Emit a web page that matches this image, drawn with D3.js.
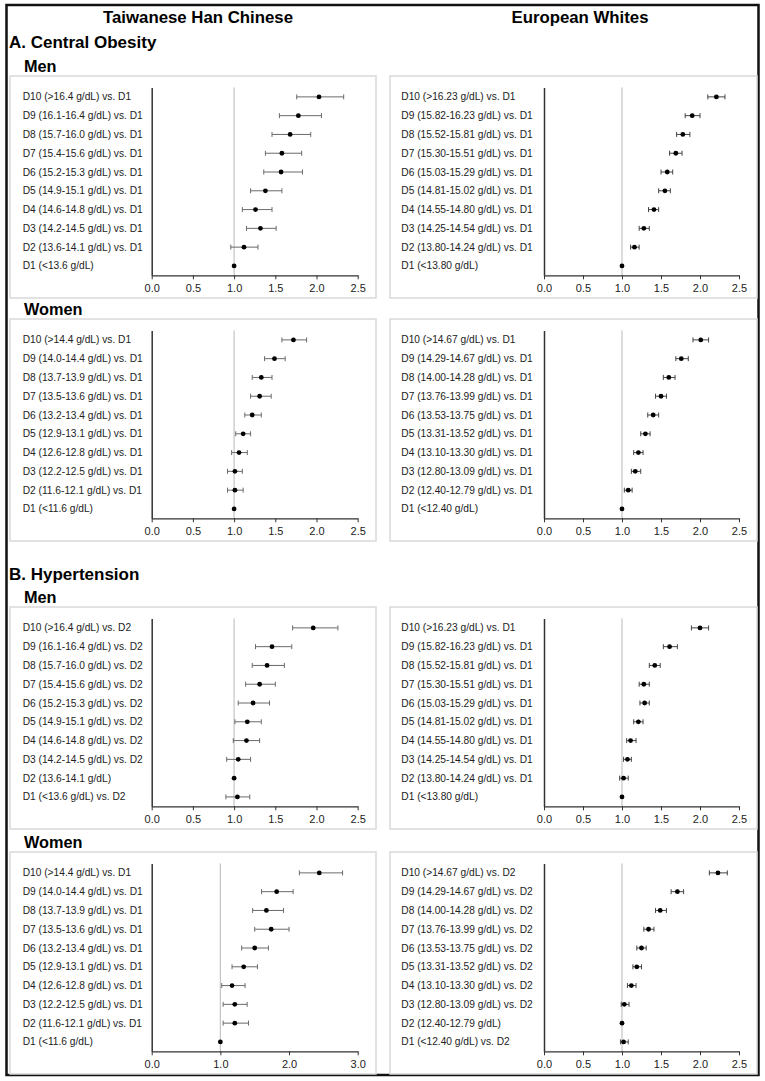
<!DOCTYPE html>
<html>
<head>
<meta charset="utf-8">
<script src="https://cdn.jsdelivr.net/npm/d3@7"></script>
<style>
  body { margin: 0; background: #fff; }
  svg text { font-family: Arial, "Liberation Sans", sans-serif; }
</style>
</head>
<body>
<div id="chart"></div>
<script>
// ---- data (rows listed top to bottom) ----
const twMenA_labels = ["D10 (>16.4 g/dL) vs. D1", "D9 (16.1-16.4 g/dL) vs. D1", "D8 (15.7-16.0 g/dL) vs. D1", "D7 (15.4-15.6 g/dL) vs. D1", "D6 (15.2-15.3 g/dL) vs. D1", "D5 (14.9-15.1 g/dL) vs. D1", "D4 (14.6-14.8 g/dL) vs. D1", "D3 (14.2-14.5 g/dL) vs. D1", "D2 (13.6-14.1 g/dL) vs. D1", "D1 (<13.6 g/dL)"];
const twMenA_or = [2.03, 1.78, 1.68, 1.58, 1.57, 1.38, 1.26, 1.32, 1.12, 1.0];
const twMenA_lo = [1.76, 1.55, 1.46, 1.38, 1.36, 1.20, 1.10, 1.15, 0.96, 1.0];
const twMenA_hi = [2.33, 2.06, 1.93, 1.82, 1.83, 1.58, 1.46, 1.51, 1.29, 1.0];

const euMenA_labels = ["D10 (>16.23 g/dL) vs. D1", "D9 (15.82-16.23 g/dL) vs. D1", "D8 (15.52-15.81 g/dL) vs. D1", "D7 (15.30-15.51 g/dL) vs. D1", "D6 (15.03-15.29 g/dL) vs. D1", "D5 (14.81-15.02 g/dL) vs. D1", "D4 (14.55-14.80 g/dL) vs. D1", "D3 (14.25-14.54 g/dL) vs. D1", "D2 (13.80-14.24 g/dL) vs. D1", "D1 (<13.80 g/dL)"];
const euMenA_or = [2.21, 1.90, 1.78, 1.69, 1.58, 1.55, 1.41, 1.28, 1.16, 1.0];
const euMenA_lo = [2.10, 1.81, 1.70, 1.61, 1.50, 1.47, 1.34, 1.22, 1.11, 1.0];
const euMenA_hi = [2.32, 2.00, 1.87, 1.77, 1.65, 1.62, 1.47, 1.35, 1.22, 1.0];

const twWomenA_labels = ["D10 (>14.4 g/dL) vs. D1", "D9 (14.0-14.4 g/dL) vs. D1", "D8 (13.7-13.9 g/dL) vs. D1", "D7 (13.5-13.6 g/dL) vs. D1", "D6 (13.2-13.4 g/dL) vs. D1", "D5 (12.9-13.1 g/dL) vs. D1", "D4 (12.6-12.8 g/dL) vs. D1", "D3 (12.2-12.5 g/dL) vs. D1", "D2 (11.6-12.1 g/dL) vs. D1", "D1 (<11.6 g/dL)"];
const twWomenA_or = [1.72, 1.49, 1.33, 1.31, 1.22, 1.11, 1.06, 1.01, 1.01, 1.0];
const twWomenA_lo = [1.58, 1.37, 1.22, 1.20, 1.13, 1.02, 0.97, 0.92, 0.92, 1.0];
const twWomenA_hi = [1.88, 1.62, 1.46, 1.45, 1.33, 1.20, 1.16, 1.10, 1.11, 1.0];

const euWomenA_labels = ["D10 (>14.67 g/dL) vs. D1", "D9 (14.29-14.67 g/dL) vs. D1", "D8 (14.00-14.28 g/dL) vs. D1", "D7 (13.76-13.99 g/dL) vs. D1", "D6 (13.53-13.75 g/dL) vs. D1", "D5 (13.31-13.52 g/dL) vs. D1", "D4 (13.10-13.30 g/dL) vs. D1", "D3 (12.80-13.09 g/dL) vs. D1", "D2 (12.40-12.79 g/dL) vs. D1", "D1 (<12.40 g/dL)"];
const euWomenA_or = [2.01, 1.76, 1.60, 1.50, 1.40, 1.30, 1.21, 1.17, 1.08, 1.0];
const euWomenA_lo = [1.91, 1.69, 1.53, 1.43, 1.33, 1.24, 1.15, 1.12, 1.03, 1.0];
const euWomenA_hi = [2.11, 1.85, 1.68, 1.57, 1.47, 1.36, 1.27, 1.24, 1.13, 1.0];

const twMenB_labels = ["D10 (>16.4 g/dL) vs. D2", "D9 (16.1-16.4 g/dL) vs. D2", "D8 (15.7-16.0 g/dL) vs. D2", "D7 (15.4-15.6 g/dL) vs. D2", "D6 (15.2-15.3 g/dL) vs. D2", "D5 (14.9-15.1 g/dL) vs. D2", "D4 (14.6-14.8 g/dL) vs. D2", "D3 (14.2-14.5 g/dL) vs. D2", "D2 (13.6-14.1 g/dL)", "D1 (<13.6 g/dL) vs. D2"];
const twMenB_or = [1.96, 1.46, 1.40, 1.31, 1.23, 1.16, 1.15, 1.05, 1.0, 1.04];
const twMenB_lo = [1.71, 1.26, 1.22, 1.14, 1.05, 1.01, 0.99, 0.91, 1.0, 0.90];
const twMenB_hi = [2.26, 1.70, 1.61, 1.50, 1.43, 1.33, 1.31, 1.20, 1.0, 1.19];

const euMenB_labels = ["D10 (>16.23 g/dL) vs. D1", "D9 (15.82-16.23 g/dL) vs. D1", "D8 (15.52-15.81 g/dL) vs. D1", "D7 (15.30-15.51 g/dL) vs. D1", "D6 (15.03-15.29 g/dL) vs. D1", "D5 (14.81-15.02 g/dL) vs. D1", "D4 (14.55-14.80 g/dL) vs. D1", "D3 (14.25-14.54 g/dL) vs. D1", "D2 (13.80-14.24 g/dL) vs. D1", "D1 (<13.80 g/dL)"];
const euMenB_or = [2.00, 1.61, 1.42, 1.28, 1.29, 1.21, 1.11, 1.07, 1.02, 1.0];
const euMenB_lo = [1.89, 1.53, 1.35, 1.22, 1.23, 1.15, 1.06, 1.02, 0.97, 1.0];
const euMenB_hi = [2.11, 1.71, 1.49, 1.35, 1.35, 1.27, 1.18, 1.12, 1.08, 1.0];

const twWomenB_labels = ["D10 (>14.4 g/dL) vs. D1", "D9 (14.0-14.4 g/dL) vs. D1", "D8 (13.7-13.9 g/dL) vs. D1", "D7 (13.5-13.6 g/dL) vs. D1", "D6 (13.2-13.4 g/dL) vs. D1", "D5 (12.9-13.1 g/dL) vs. D1", "D4 (12.6-12.8 g/dL) vs. D1", "D3 (12.2-12.5 g/dL) vs. D1", "D2 (11.6-12.1 g/dL) vs. D1", "D1 (<11.6 g/dL)"];
const twWomenB_or = [2.44, 1.82, 1.67, 1.74, 1.50, 1.34, 1.17, 1.21, 1.21, 1.0];
const twWomenB_lo = [2.15, 1.60, 1.47, 1.50, 1.31, 1.17, 1.02, 1.04, 1.04, 1.0];
const twWomenB_hi = [2.78, 2.06, 1.92, 2.00, 1.70, 1.54, 1.36, 1.39, 1.41, 1.0];

const euWomenB_labels = ["D10 (>14.67 g/dL) vs. D2", "D9 (14.29-14.67 g/dL) vs. D2", "D8 (14.00-14.28 g/dL) vs. D2", "D7 (13.76-13.99 g/dL) vs. D2", "D6 (13.53-13.75 g/dL) vs. D2", "D5 (13.31-13.52 g/dL) vs. D2", "D4 (13.10-13.30 g/dL) vs. D2", "D3 (12.80-13.09 g/dL) vs. D2", "D2 (12.40-12.79 g/dL)", "D1 (<12.40 g/dL) vs. D2"];
const euWomenB_or = [2.23, 1.71, 1.49, 1.34, 1.25, 1.19, 1.12, 1.03, 1.0, 1.02];
const euWomenB_lo = [2.12, 1.63, 1.43, 1.28, 1.19, 1.14, 1.07, 0.99, 1.0, 0.98];
const euWomenB_hi = [2.35, 1.79, 1.57, 1.41, 1.31, 1.25, 1.18, 1.09, 1.0, 1.08];

const ticks25 = [0, 0.5, 1.0, 1.5, 2.0, 2.5];
const ticks30 = [0, 1.0, 2.0, 3.0];

const colTitles = ["Taiwanese Han Chinese", "European Whites"];
const sectionTitles = ["A. Central Obesity", "B. Hypertension"];
const sexTitles = ["Men", "Women"];

// ---- layout ----
const W = 765, H = 1081;
const boxH = 222;
const cols = [
  { bx: 10, bw: 366, ax0: 141.7, ax1: 347.7, lx: 12.7 },
  { bx: 390, bw: 367, ax0: 154, ax1: 349, lx: 11.3 }
];
const rowsY = [76, 319, 607, 852];
const axisTop = 11.5, axisBottom = 199.3;

const panels = [
  { col: 0, row: 0, labels: twMenA_labels, or: twMenA_or, lo: twMenA_lo, hi: twMenA_hi, ticks: ticks25 },
  { col: 1, row: 0, labels: euMenA_labels, or: euMenA_or, lo: euMenA_lo, hi: euMenA_hi, ticks: ticks25 },
  { col: 0, row: 1, labels: twWomenA_labels, or: twWomenA_or, lo: twWomenA_lo, hi: twWomenA_hi, ticks: ticks25 },
  { col: 1, row: 1, labels: euWomenA_labels, or: euWomenA_or, lo: euWomenA_lo, hi: euWomenA_hi, ticks: ticks25 },
  { col: 0, row: 2, labels: twMenB_labels, or: twMenB_or, lo: twMenB_lo, hi: twMenB_hi, ticks: ticks25 },
  { col: 1, row: 2, labels: euMenB_labels, or: euMenB_or, lo: euMenB_lo, hi: euMenB_hi, ticks: ticks25 },
  { col: 0, row: 3, labels: twWomenB_labels, or: twWomenB_or, lo: twWomenB_lo, hi: twWomenB_hi, ticks: ticks30 },
  { col: 1, row: 3, labels: euWomenB_labels, or: euWomenB_or, lo: euWomenB_lo, hi: euWomenB_hi, ticks: ticks25 }
];

const svg = d3.select("#chart").append("svg")
  .attr("width", W)
  .attr("height", H);

svg.append("rect").attr("width", W).attr("height", H).attr("fill", "#fff");

// outer frame
svg.append("rect")
  .attr("x", 6.5).attr("y", 5)
  .attr("width", 752).attr("height", 1070)
  .attr("fill", "none")
  .attr("stroke", "#111")
  .attr("stroke-width", 2.5);

// titles
svg.selectAll(".coltitle")
  .data(colTitles)
  .enter()
  .append("text")
  .attr("class", "coltitle")
  .attr("x", (d, i) => i === 0 ? 198 : 580)
  .attr("y", 23)
  .attr("text-anchor", "middle")
  .attr("font-size", 16.8)
  .attr("font-weight", "bold")
  .text((d) => d);

svg.selectAll(".sectitle")
  .data(sectionTitles)
  .enter()
  .append("text")
  .attr("class", "sectitle")
  .attr("x", 9)
  .attr("y", (d, i) => i === 0 ? 48 : 580)
  .attr("font-size", 17)
  .attr("font-weight", "bold")
  .text((d) => d);

const sexY = [71.5, 315, 603, 848];
svg.selectAll(".sextitle")
  .data(sexY)
  .enter()
  .append("text")
  .attr("class", "sextitle")
  .attr("x", 24)
  .attr("y", (d) => d)
  .attr("font-size", 16.3)
  .attr("font-weight", "bold")
  .text((d, i) => sexTitles[i % 2]);

// panels
panels.forEach((p) => {
  const c = cols[p.col];
  const g = svg.append("g")
    .attr("transform", "translate(" + c.bx + "," + rowsY[p.row] + ")");

  g.append("rect")
    .attr("x", 0).attr("y", 0)
    .attr("width", c.bw).attr("height", boxH)
    .attr("fill", "#fff")
    .attr("stroke", "#d9d9d9")
    .attr("stroke-width", 1.5);

  const xScale = d3.scaleLinear()
    .domain([0, d3.max(p.ticks)])
    .range([c.ax0, c.ax1]);

  const yScale = d3.scalePoint()
    .domain(p.labels)
    .range([axisTop, axisBottom])
    .padding(0.5);

  // reference line at 1
  g.append("line")
    .attr("x1", xScale(1)).attr("x2", xScale(1))
    .attr("y1", axisTop).attr("y2", axisBottom)
    .attr("stroke", "#c4c4c4")
    .attr("stroke-width", 1.2);

  const xAxis = d3.axisBottom(xScale)
    .tickValues(p.ticks)
    .tickFormat(d3.format(".1f"))
    .tickSize(4)
    .tickSizeOuter(0);

  const xg = g.append("g")
    .attr("transform", "translate(0," + axisBottom + ")")
    .call(xAxis);
  xg.select(".domain").attr("stroke", "#333").attr("stroke-width", 1.2);
  xg.selectAll(".tick line").attr("stroke", "#333");
  xg.selectAll(".tick text")
    .attr("font-size", 11)
    .attr("fill", "#222")
    .attr("font-family", "Arial, 'Liberation Sans', sans-serif")
    .attr("dy", "0.9em");

  const yAxis = d3.axisLeft(yScale).tickSize(0).tickSizeOuter(0).tickFormat("");
  const yg = g.append("g")
    .attr("transform", "translate(" + c.ax0 + ",0)")
    .call(yAxis);
  yg.select(".domain").attr("stroke", "#333").attr("stroke-width", 1.5);

  // row labels
  g.selectAll(".rowlabel")
    .data(p.labels)
    .enter()
    .append("text")
    .attr("class", "rowlabel")
    .attr("x", c.lx)
    .attr("y", (d) => yScale(d))
    .attr("dy", "0.35em")
    .attr("font-size", 10.2)
    .attr("fill", "#222")
    .text((d) => d);

  const rows = p.labels.map((l, i) => ({ label: l, or: p.or[i], lo: p.lo[i], hi: p.hi[i] }));

  // error bars
  const eb = g.selectAll(".eb")
    .data(rows.filter((d) => d.hi > d.lo))
    .enter()
    .append("g")
    .attr("class", "eb")
    .attr("stroke", p.col === 0 ? "#6a6a6a" : "#444")
    .attr("stroke-width", 1);
  eb.append("line")
    .attr("x1", (d) => xScale(d.lo)).attr("x2", (d) => xScale(d.hi))
    .attr("y1", (d) => yScale(d.label)).attr("y2", (d) => yScale(d.label));
  eb.append("line")
    .attr("x1", (d) => xScale(d.lo)).attr("x2", (d) => xScale(d.lo))
    .attr("y1", (d) => yScale(d.label) - 2.5).attr("y2", (d) => yScale(d.label) + 2.5);
  eb.append("line")
    .attr("x1", (d) => xScale(d.hi)).attr("x2", (d) => xScale(d.hi))
    .attr("y1", (d) => yScale(d.label) - 2.5).attr("y2", (d) => yScale(d.label) + 2.5);

  // points
  g.selectAll(".pt")
    .data(rows)
    .enter()
    .append("circle")
    .attr("class", "pt")
    .attr("cx", (d) => xScale(d.or))
    .attr("cy", (d) => yScale(d.label))
    .attr("r", 2.4)
    .attr("fill", "#000");
});
</script>
</body>
</html>
